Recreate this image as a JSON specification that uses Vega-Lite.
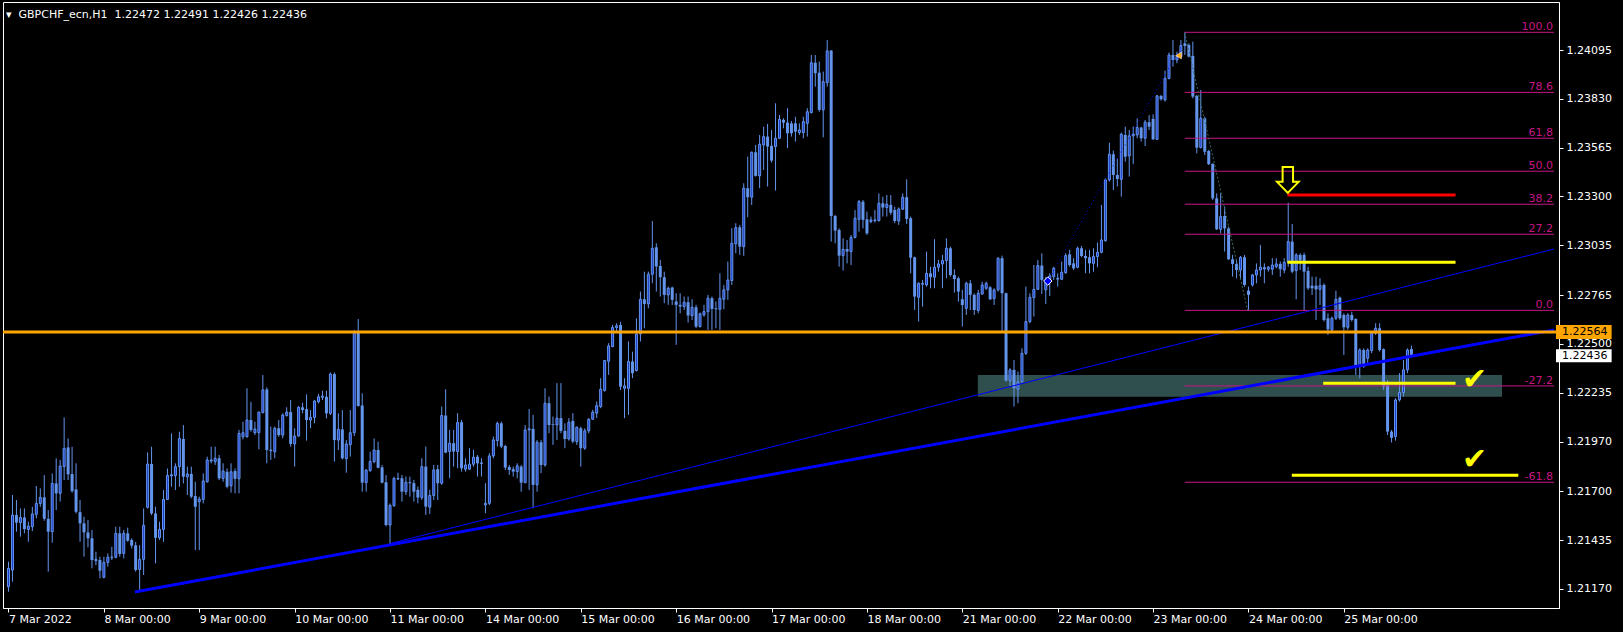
{
"$schema":"https://vega.github.io/schema/vega-lite/v6.json",
"width":1556,"height":606,
"autosize":{"type":"none"},
"padding":{"left":3,"top":2,"right":64,"bottom":24},
"background":"black",
"title":{"text":"▾\u00a0\u00a0GBPCHF_ecn,H1\u00a0\u00a01.22472 1.22491 1.22426 1.22436","anchor":"start","frame":"group","orient":"top","offset":-14,"dx":3,"dy":13,"color":"white","font":"DejaVu Sans","fontSize":11,"fontWeight":"normal","baseline":"alphabetic"},
"config":{"view":{"stroke":"white","strokeWidth":1},"axis":{"grid":false}},
"datasets":{
"candles":[
{"i":0,"o":1.21182,"h":1.21318,"l":1.21155,"c":1.21282},
{"i":1,"o":1.21273,"h":1.21680,"l":1.21209,"c":1.21571},
{"i":2,"o":1.21571,"h":1.21653,"l":1.21481,"c":1.21530},
{"i":3,"o":1.21530,"h":1.21607,"l":1.21454,"c":1.21558},
{"i":4,"o":1.21558,"h":1.21607,"l":1.21472,"c":1.21495},
{"i":5,"o":1.21493,"h":1.21535,"l":1.21426,"c":1.21511},
{"i":6,"o":1.21508,"h":1.21616,"l":1.21484,"c":1.21577},
{"i":7,"o":1.21575,"h":1.21729,"l":1.21553,"c":1.21634},
{"i":8,"o":1.21634,"h":1.21716,"l":1.21616,"c":1.21667},
{"i":9,"o":1.21667,"h":1.21788,"l":1.21540,"c":1.21551},
{"i":10,"o":1.21551,"h":1.21598,"l":1.21264,"c":1.21481},
{"i":11,"o":1.21481,"h":1.21797,"l":1.21421,"c":1.21743},
{"i":12,"o":1.21743,"h":1.21879,"l":1.21598,"c":1.21689},
{"i":13,"o":1.21689,"h":1.21870,"l":1.21644,"c":1.21837},
{"i":14,"o":1.21834,"h":1.22101,"l":1.21761,"c":1.21933},
{"i":15,"o":1.21938,"h":1.21987,"l":1.21761,"c":1.21792},
{"i":16,"o":1.21794,"h":1.21942,"l":1.21692,"c":1.21701},
{"i":17,"o":1.21710,"h":1.21852,"l":1.21580,"c":1.21589},
{"i":18,"o":1.21587,"h":1.21653,"l":1.21426,"c":1.21526},
{"i":19,"o":1.21526,"h":1.21562,"l":1.21345,"c":1.21477},
{"i":20,"o":1.21477,"h":1.21544,"l":1.21396,"c":1.21445},
{"i":21,"o":1.21445,"h":1.21490,"l":1.21282,"c":1.21327},
{"i":22,"o":1.21323,"h":1.21372,"l":1.21300,"c":1.21331},
{"i":23,"o":1.21327,"h":1.21345,"l":1.21228,"c":1.21269},
{"i":24,"o":1.21233,"h":1.21345,"l":1.21228,"c":1.21314},
{"i":25,"o":1.21314,"h":1.21363,"l":1.21291,"c":1.21342},
{"i":26,"o":1.21340,"h":1.21399,"l":1.21327,"c":1.21343},
{"i":27,"o":1.21342,"h":1.21508,"l":1.21336,"c":1.21472},
{"i":28,"o":1.21472,"h":1.21508,"l":1.21345,"c":1.21360},
{"i":29,"o":1.21363,"h":1.21490,"l":1.21336,"c":1.21472},
{"i":30,"o":1.21472,"h":1.21503,"l":1.21426,"c":1.21432},
{"i":31,"o":1.21436,"h":1.21445,"l":1.21390,"c":1.21405},
{"i":32,"o":1.21407,"h":1.21426,"l":1.21264,"c":1.21273},
{"i":33,"o":1.21276,"h":1.21408,"l":1.21164,"c":1.21331},
{"i":34,"o":1.21331,"h":1.21607,"l":1.21246,"c":1.21515},
{"i":35,"o":1.21613,"h":1.21911,"l":1.21607,"c":1.21848},
{"i":36,"o":1.21848,"h":1.21942,"l":1.21571,"c":1.21580},
{"i":37,"o":1.21580,"h":1.21616,"l":1.21309,"c":1.21448},
{"i":38,"o":1.21448,"h":1.21535,"l":1.21436,"c":1.21493},
{"i":39,"o":1.21493,"h":1.21707,"l":1.21426,"c":1.21656},
{"i":40,"o":1.21656,"h":1.21824,"l":1.21653,"c":1.21786},
{"i":41,"o":1.21783,"h":1.22014,"l":1.21725,"c":1.21790},
{"i":42,"o":1.21785,"h":1.21852,"l":1.21707,"c":1.21834},
{"i":43,"o":1.21834,"h":1.22023,"l":1.21725,"c":1.21987},
{"i":44,"o":1.21984,"h":1.22060,"l":1.21743,"c":1.21779},
{"i":45,"o":1.21779,"h":1.21834,"l":1.21680,"c":1.21794},
{"i":46,"o":1.21794,"h":1.21834,"l":1.21662,"c":1.21671},
{"i":47,"o":1.21674,"h":1.21752,"l":1.21381,"c":1.21616},
{"i":48,"o":1.21644,"h":1.21671,"l":1.21381,"c":1.21658},
{"i":49,"o":1.21656,"h":1.21797,"l":1.21634,"c":1.21756},
{"i":50,"o":1.21752,"h":1.21888,"l":1.21747,"c":1.21870},
{"i":51,"o":1.21864,"h":1.21942,"l":1.21852,"c":1.21870},
{"i":52,"o":1.21861,"h":1.21942,"l":1.21843,"c":1.21879},
{"i":53,"o":1.21879,"h":1.21897,"l":1.21761,"c":1.21770},
{"i":54,"o":1.21770,"h":1.21852,"l":1.21752,"c":1.21810},
{"i":55,"o":1.21806,"h":1.21824,"l":1.21716,"c":1.21725},
{"i":56,"o":1.21730,"h":1.21852,"l":1.21692,"c":1.21806},
{"i":57,"o":1.21810,"h":1.21824,"l":1.21689,"c":1.21768},
{"i":58,"o":1.21768,"h":1.22033,"l":1.21689,"c":1.22014},
{"i":59,"o":1.21996,"h":1.22078,"l":1.21982,"c":1.22018},
{"i":60,"o":1.21996,"h":1.22259,"l":1.21991,"c":1.22087},
{"i":61,"o":1.22087,"h":1.22186,"l":1.22023,"c":1.22033},
{"i":62,"o":1.22018,"h":1.22078,"l":1.22005,"c":1.22038},
{"i":63,"o":1.22018,"h":1.22132,"l":1.21928,"c":1.22130},
{"i":64,"o":1.22127,"h":1.22331,"l":1.22123,"c":1.22250},
{"i":65,"o":1.22253,"h":1.22264,"l":1.21852,"c":1.21924},
{"i":66,"o":1.21920,"h":1.22051,"l":1.21870,"c":1.21924},
{"i":67,"o":1.21915,"h":1.22051,"l":1.21879,"c":1.22042},
{"i":68,"o":1.22042,"h":1.22087,"l":1.21996,"c":1.22005},
{"i":69,"o":1.22005,"h":1.22123,"l":1.21987,"c":1.22114},
{"i":70,"o":1.22112,"h":1.22156,"l":1.22105,"c":1.22130},
{"i":71,"o":1.22130,"h":1.22195,"l":1.21942,"c":1.21957},
{"i":72,"o":1.21957,"h":1.22042,"l":1.21834,"c":1.22000},
{"i":73,"o":1.22000,"h":1.22163,"l":1.21996,"c":1.22156},
{"i":74,"o":1.22156,"h":1.22181,"l":1.22123,"c":1.22141},
{"i":75,"o":1.22146,"h":1.22226,"l":1.21975,"c":1.22087},
{"i":76,"o":1.22087,"h":1.22141,"l":1.22042,"c":1.22101},
{"i":77,"o":1.22101,"h":1.22195,"l":1.22069,"c":1.22190},
{"i":78,"o":1.22186,"h":1.22228,"l":1.22177,"c":1.22213},
{"i":79,"o":1.22210,"h":1.22246,"l":1.22195,"c":1.22217},
{"i":80,"o":1.22213,"h":1.22246,"l":1.22096,"c":1.22123},
{"i":81,"o":1.22123,"h":1.22345,"l":1.22114,"c":1.22336},
{"i":82,"o":1.22336,"h":1.22345,"l":1.21861,"c":1.21978},
{"i":83,"o":1.21978,"h":1.22123,"l":1.21924,"c":1.22036},
{"i":84,"o":1.22036,"h":1.22141,"l":1.21873,"c":1.21879},
{"i":85,"o":1.21877,"h":1.21978,"l":1.21801,"c":1.21957},
{"i":86,"o":1.21953,"h":1.22141,"l":1.21888,"c":1.22018},
{"i":87,"o":1.22018,"h":1.22575,"l":1.22000,"c":1.22564},
{"i":88,"o":1.22563,"h":1.22635,"l":1.22159,"c":1.22163},
{"i":89,"o":1.22166,"h":1.22232,"l":1.21698,"c":1.21747},
{"i":90,"o":1.21747,"h":1.21820,"l":1.21698,"c":1.21815},
{"i":91,"o":1.21812,"h":1.21915,"l":1.21806,"c":1.21862},
{"i":92,"o":1.21861,"h":1.21987,"l":1.21852,"c":1.21924},
{"i":93,"o":1.21924,"h":1.21969,"l":1.21824,"c":1.21828},
{"i":94,"o":1.21830,"h":1.21843,"l":1.21743,"c":1.21747},
{"i":95,"o":1.21749,"h":1.21788,"l":1.21510,"c":1.21517},
{"i":96,"o":1.21517,"h":1.21634,"l":1.21408,"c":1.21624},
{"i":97,"o":1.21622,"h":1.21779,"l":1.21616,"c":1.21770},
{"i":98,"o":1.21767,"h":1.21801,"l":1.21761,"c":1.21770},
{"i":99,"o":1.21771,"h":1.21789,"l":1.21644,"c":1.21698},
{"i":100,"o":1.21698,"h":1.21780,"l":1.21680,"c":1.21749},
{"i":101,"o":1.21749,"h":1.21780,"l":1.21671,"c":1.21744},
{"i":102,"o":1.21744,"h":1.21762,"l":1.21644,"c":1.21698},
{"i":103,"o":1.21708,"h":1.21726,"l":1.21635,"c":1.21666},
{"i":104,"o":1.21666,"h":1.21879,"l":1.21653,"c":1.21834},
{"i":105,"o":1.21834,"h":1.21943,"l":1.21572,"c":1.21617},
{"i":106,"o":1.21614,"h":1.21708,"l":1.21577,"c":1.21677},
{"i":107,"o":1.21677,"h":1.21843,"l":1.21653,"c":1.21816},
{"i":108,"o":1.21820,"h":1.21843,"l":1.21653,"c":1.21744},
{"i":109,"o":1.21744,"h":1.22160,"l":1.21735,"c":1.22111},
{"i":110,"o":1.22111,"h":1.22254,"l":1.21907,"c":1.21910},
{"i":111,"o":1.21916,"h":1.22033,"l":1.21771,"c":1.21961},
{"i":112,"o":1.21961,"h":1.22033,"l":1.21834,"c":1.21916},
{"i":113,"o":1.21916,"h":1.22124,"l":1.21825,"c":1.22073},
{"i":114,"o":1.22075,"h":1.22087,"l":1.21807,"c":1.21825},
{"i":115,"o":1.21820,"h":1.21879,"l":1.21807,"c":1.21843},
{"i":116,"o":1.21820,"h":1.21934,"l":1.21816,"c":1.21847},
{"i":117,"o":1.21847,"h":1.21925,"l":1.21834,"c":1.21885},
{"i":118,"o":1.21888,"h":1.21897,"l":1.21780,"c":1.21852},
{"i":119,"o":1.21856,"h":1.21879,"l":1.21780,"c":1.21849},
{"i":120,"o":1.21626,"h":1.21744,"l":1.21581,"c":1.21635},
{"i":121,"o":1.21635,"h":1.21907,"l":1.21626,"c":1.21892},
{"i":122,"o":1.21892,"h":1.21997,"l":1.21879,"c":1.21979},
{"i":123,"o":1.21975,"h":1.22078,"l":1.21943,"c":1.22069},
{"i":124,"o":1.22069,"h":1.22078,"l":1.21934,"c":1.21943},
{"i":125,"o":1.21946,"h":1.21952,"l":1.21816,"c":1.21829},
{"i":126,"o":1.21832,"h":1.21843,"l":1.21789,"c":1.21816},
{"i":127,"o":1.21820,"h":1.21834,"l":1.21780,"c":1.21807},
{"i":128,"o":1.21807,"h":1.21852,"l":1.21771,"c":1.21838},
{"i":129,"o":1.21834,"h":1.21843,"l":1.21698,"c":1.21747},
{"i":130,"o":1.21747,"h":1.22060,"l":1.21744,"c":1.22033},
{"i":131,"o":1.22033,"h":1.22147,"l":1.21708,"c":1.22039},
{"i":132,"o":1.22039,"h":1.22115,"l":1.21608,"c":1.21735},
{"i":133,"o":1.21735,"h":1.21979,"l":1.21698,"c":1.21966},
{"i":134,"o":1.21966,"h":1.21979,"l":1.21798,"c":1.21843},
{"i":135,"o":1.21843,"h":1.22259,"l":1.21834,"c":1.22178},
{"i":136,"o":1.22178,"h":1.22214,"l":1.22015,"c":1.22060},
{"i":137,"o":1.22064,"h":1.22106,"l":1.21952,"c":1.22060},
{"i":138,"o":1.22060,"h":1.22287,"l":1.21979,"c":1.22097},
{"i":139,"o":1.22097,"h":1.22287,"l":1.22015,"c":1.22028},
{"i":140,"o":1.22028,"h":1.22069,"l":1.21934,"c":1.21984},
{"i":141,"o":1.21984,"h":1.22097,"l":1.21975,"c":1.22075},
{"i":142,"o":1.22082,"h":1.22124,"l":1.21961,"c":1.21970},
{"i":143,"o":1.21970,"h":1.22051,"l":1.21952,"c":1.22048},
{"i":144,"o":1.22042,"h":1.22051,"l":1.21834,"c":1.21934},
{"i":145,"o":1.21934,"h":1.22042,"l":1.21925,"c":1.22028},
{"i":146,"o":1.22028,"h":1.22097,"l":1.22015,"c":1.22091},
{"i":147,"o":1.22091,"h":1.22142,"l":1.22087,"c":1.22129},
{"i":148,"o":1.22124,"h":1.22187,"l":1.22097,"c":1.22165},
{"i":149,"o":1.22160,"h":1.22314,"l":1.22151,"c":1.22254},
{"i":150,"o":1.22247,"h":1.22413,"l":1.22241,"c":1.22410},
{"i":151,"o":1.22406,"h":1.22504,"l":1.22332,"c":1.22489},
{"i":152,"o":1.22485,"h":1.22603,"l":1.22482,"c":1.22589},
{"i":153,"o":1.22589,"h":1.22612,"l":1.22567,"c":1.22598},
{"i":154,"o":1.22603,"h":1.22620,"l":1.22250,"c":1.22268},
{"i":155,"o":1.22259,"h":1.22314,"l":1.22097,"c":1.22272},
{"i":156,"o":1.22259,"h":1.22513,"l":1.22115,"c":1.22404},
{"i":157,"o":1.22404,"h":1.22458,"l":1.22314,"c":1.22341},
{"i":158,"o":1.22355,"h":1.22639,"l":1.22350,"c":1.22554},
{"i":159,"o":1.22554,"h":1.22784,"l":1.22513,"c":1.22742},
{"i":160,"o":1.22742,"h":1.22892,"l":1.22585,"c":1.22717},
{"i":161,"o":1.22717,"h":1.22892,"l":1.22693,"c":1.22878},
{"i":162,"o":1.22878,"h":1.23167,"l":1.22829,"c":1.23019},
{"i":163,"o":1.23024,"h":1.23046,"l":1.22784,"c":1.22920},
{"i":164,"o":1.22923,"h":1.22956,"l":1.22757,"c":1.22862},
{"i":165,"o":1.22862,"h":1.22892,"l":1.22721,"c":1.22766},
{"i":166,"o":1.22766,"h":1.22811,"l":1.22712,"c":1.22802},
{"i":167,"o":1.22806,"h":1.22811,"l":1.22712,"c":1.22739},
{"i":168,"o":1.22730,"h":1.22775,"l":1.22495,"c":1.22712},
{"i":169,"o":1.22712,"h":1.22775,"l":1.22666,"c":1.22703},
{"i":170,"o":1.22703,"h":1.22757,"l":1.22684,"c":1.22726},
{"i":171,"o":1.22726,"h":1.22757,"l":1.22616,"c":1.22654},
{"i":172,"o":1.22654,"h":1.22742,"l":1.22630,"c":1.22699},
{"i":173,"o":1.22699,"h":1.22712,"l":1.22585,"c":1.22594},
{"i":174,"o":1.22594,"h":1.22670,"l":1.22589,"c":1.22663},
{"i":175,"o":1.22657,"h":1.22712,"l":1.22648,"c":1.22675},
{"i":176,"o":1.22675,"h":1.22766,"l":1.22576,"c":1.22748},
{"i":177,"o":1.22748,"h":1.22757,"l":1.22576,"c":1.22690},
{"i":178,"o":1.22693,"h":1.22730,"l":1.22585,"c":1.22688},
{"i":179,"o":1.22688,"h":1.22883,"l":1.22576,"c":1.22748},
{"i":180,"o":1.22742,"h":1.22820,"l":1.22688,"c":1.22793},
{"i":181,"o":1.22793,"h":1.22947,"l":1.22739,"c":1.22847},
{"i":182,"o":1.22844,"h":1.23128,"l":1.22820,"c":1.23046},
{"i":183,"o":1.23043,"h":1.23155,"l":1.22992,"c":1.23131},
{"i":184,"o":1.23133,"h":1.23146,"l":1.22983,"c":1.23028},
{"i":185,"o":1.23028,"h":1.23372,"l":1.22978,"c":1.23345},
{"i":186,"o":1.23345,"h":1.23517,"l":1.23187,"c":1.23296},
{"i":187,"o":1.23296,"h":1.23544,"l":1.23254,"c":1.23540},
{"i":188,"o":1.23540,"h":1.23580,"l":1.23408,"c":1.23412},
{"i":189,"o":1.23412,"h":1.23634,"l":1.23345,"c":1.23584},
{"i":190,"o":1.23580,"h":1.23679,"l":1.23444,"c":1.23625},
{"i":191,"o":1.23625,"h":1.23694,"l":1.23354,"c":1.23571},
{"i":192,"o":1.23575,"h":1.23661,"l":1.23484,"c":1.23495},
{"i":193,"o":1.23571,"h":1.23806,"l":1.23332,"c":1.23616},
{"i":194,"o":1.23616,"h":1.23743,"l":1.23611,"c":1.23719},
{"i":195,"o":1.23716,"h":1.23725,"l":1.23670,"c":1.23701},
{"i":196,"o":1.23701,"h":1.23779,"l":1.23562,"c":1.23643},
{"i":197,"o":1.23697,"h":1.23710,"l":1.23625,"c":1.23643},
{"i":198,"o":1.23697,"h":1.23733,"l":1.23598,"c":1.23652},
{"i":199,"o":1.23647,"h":1.23697,"l":1.23634,"c":1.23661},
{"i":200,"o":1.23647,"h":1.23733,"l":1.23616,"c":1.23706},
{"i":201,"o":1.23697,"h":1.23779,"l":1.23625,"c":1.23760},
{"i":202,"o":1.23755,"h":1.24068,"l":1.23751,"c":1.24026},
{"i":203,"o":1.24026,"h":1.24068,"l":1.23896,"c":1.23969},
{"i":204,"o":1.23972,"h":1.24032,"l":1.23760,"c":1.23770},
{"i":205,"o":1.23770,"h":1.23978,"l":1.23621,"c":1.23923},
{"i":206,"o":1.23918,"h":1.24149,"l":1.23896,"c":1.24090},
{"i":207,"o":1.24092,"h":1.24095,"l":1.23055,"c":1.23194},
{"i":208,"o":1.23194,"h":1.23200,"l":1.23046,"c":1.23115},
{"i":209,"o":1.23118,"h":1.23127,"l":1.22919,"c":1.22979},
{"i":210,"o":1.22979,"h":1.23073,"l":1.22898,"c":1.23013},
{"i":211,"o":1.23015,"h":1.23064,"l":1.22937,"c":1.23001},
{"i":212,"o":1.23001,"h":1.23091,"l":1.22928,"c":1.23078},
{"i":213,"o":1.23078,"h":1.23227,"l":1.23073,"c":1.23182},
{"i":214,"o":1.23176,"h":1.23281,"l":1.23109,"c":1.23272},
{"i":215,"o":1.23272,"h":1.23281,"l":1.23127,"c":1.23173},
{"i":216,"o":1.23176,"h":1.23218,"l":1.23091,"c":1.23100},
{"i":217,"o":1.23164,"h":1.23191,"l":1.23155,"c":1.23173},
{"i":218,"o":1.23169,"h":1.23227,"l":1.23158,"c":1.23173},
{"i":219,"o":1.23169,"h":1.23317,"l":1.23164,"c":1.23263},
{"i":220,"o":1.23263,"h":1.23299,"l":1.23191,"c":1.23240},
{"i":221,"o":1.23240,"h":1.23308,"l":1.23191,"c":1.23258},
{"i":222,"o":1.23254,"h":1.23308,"l":1.23200,"c":1.23212},
{"i":223,"o":1.23227,"h":1.23245,"l":1.23155,"c":1.23167},
{"i":224,"o":1.23167,"h":1.23241,"l":1.23146,"c":1.23232},
{"i":225,"o":1.23231,"h":1.23317,"l":1.23227,"c":1.23296},
{"i":226,"o":1.23296,"h":1.23393,"l":1.23151,"c":1.23178},
{"i":227,"o":1.23182,"h":1.23191,"l":1.22883,"c":1.22968},
{"i":228,"o":1.22970,"h":1.22974,"l":1.22684,"c":1.22757},
{"i":229,"o":1.22753,"h":1.22833,"l":1.22621,"c":1.22829},
{"i":230,"o":1.22824,"h":1.22847,"l":1.22702,"c":1.22829},
{"i":231,"o":1.22820,"h":1.23001,"l":1.22811,"c":1.22883},
{"i":232,"o":1.22883,"h":1.22919,"l":1.22802,"c":1.22862},
{"i":233,"o":1.22862,"h":1.23068,"l":1.22802,"c":1.22916},
{"i":234,"o":1.22916,"h":1.22956,"l":1.22892,"c":1.22934},
{"i":235,"o":1.22934,"h":1.22983,"l":1.22802,"c":1.22952},
{"i":236,"o":1.22952,"h":1.23073,"l":1.22856,"c":1.23019},
{"i":237,"o":1.23019,"h":1.23028,"l":1.22865,"c":1.22874},
{"i":238,"o":1.22874,"h":1.22905,"l":1.22778,"c":1.22852},
{"i":239,"o":1.22856,"h":1.22865,"l":1.22729,"c":1.22784},
{"i":240,"o":1.22742,"h":1.22793,"l":1.22594,"c":1.22711},
{"i":241,"o":1.22693,"h":1.22838,"l":1.22657,"c":1.22829},
{"i":242,"o":1.22829,"h":1.22847,"l":1.22684,"c":1.22766},
{"i":243,"o":1.22766,"h":1.22775,"l":1.22657,"c":1.22684},
{"i":244,"o":1.22681,"h":1.22793,"l":1.22666,"c":1.22775},
{"i":245,"o":1.22771,"h":1.22838,"l":1.22766,"c":1.22820},
{"i":246,"o":1.22802,"h":1.22838,"l":1.22793,"c":1.22829},
{"i":247,"o":1.22807,"h":1.22814,"l":1.22738,"c":1.22742},
{"i":248,"o":1.22746,"h":1.22802,"l":1.22711,"c":1.22793},
{"i":249,"o":1.22793,"h":1.22970,"l":1.22784,"c":1.22965},
{"i":250,"o":1.22965,"h":1.22979,"l":1.22567,"c":1.22775},
{"i":251,"o":1.22775,"h":1.22778,"l":1.22295,"c":1.22301},
{"i":252,"o":1.22301,"h":1.22368,"l":1.22268,"c":1.22359},
{"i":253,"o":1.22359,"h":1.22413,"l":1.22160,"c":1.22259},
{"i":254,"o":1.22254,"h":1.22350,"l":1.22178,"c":1.22295},
{"i":255,"o":1.22295,"h":1.22476,"l":1.22286,"c":1.22449},
{"i":256,"o":1.22449,"h":1.22811,"l":1.22440,"c":1.22621},
{"i":257,"o":1.22621,"h":1.22775,"l":1.22612,"c":1.22753},
{"i":258,"o":1.22751,"h":1.22928,"l":1.22648,"c":1.22796},
{"i":259,"o":1.22796,"h":1.22956,"l":1.22793,"c":1.22925},
{"i":260,"o":1.22925,"h":1.22992,"l":1.22771,"c":1.22847},
{"i":261,"o":1.22793,"h":1.22865,"l":1.22717,"c":1.22847},
{"i":262,"o":1.22838,"h":1.22883,"l":1.22760,"c":1.22869},
{"i":263,"o":1.22865,"h":1.22919,"l":1.22847,"c":1.22910},
{"i":264,"o":1.22851,"h":1.22883,"l":1.22811,"c":1.22856},
{"i":265,"o":1.22851,"h":1.22947,"l":1.22847,"c":1.22889},
{"i":266,"o":1.22887,"h":1.22992,"l":1.22880,"c":1.22979},
{"i":267,"o":1.22986,"h":1.23010,"l":1.22919,"c":1.22928},
{"i":268,"o":1.22937,"h":1.22965,"l":1.22901,"c":1.22910},
{"i":269,"o":1.22916,"h":1.23028,"l":1.22910,"c":1.23019},
{"i":270,"o":1.23019,"h":1.23031,"l":1.22970,"c":1.22977},
{"i":271,"o":1.22977,"h":1.23010,"l":1.22883,"c":1.22965},
{"i":272,"o":1.22970,"h":1.23010,"l":1.22883,"c":1.22937},
{"i":273,"o":1.22937,"h":1.23019,"l":1.22892,"c":1.22974},
{"i":274,"o":1.22974,"h":1.23050,"l":1.22916,"c":1.22997},
{"i":275,"o":1.22997,"h":1.23254,"l":1.22992,"c":1.23064},
{"i":276,"o":1.23060,"h":1.23399,"l":1.23055,"c":1.23390},
{"i":277,"o":1.23390,"h":1.23592,"l":1.23381,"c":1.23529},
{"i":278,"o":1.23529,"h":1.23549,"l":1.23335,"c":1.23417},
{"i":279,"o":1.23417,"h":1.23507,"l":1.23354,"c":1.23395},
{"i":280,"o":1.23393,"h":1.23647,"l":1.23299,"c":1.23638},
{"i":281,"o":1.23634,"h":1.23679,"l":1.23489,"c":1.23516},
{"i":282,"o":1.23520,"h":1.23661,"l":1.23408,"c":1.23629},
{"i":283,"o":1.23629,"h":1.23679,"l":1.23477,"c":1.23638},
{"i":284,"o":1.23634,"h":1.23724,"l":1.23616,"c":1.23674},
{"i":285,"o":1.23674,"h":1.23679,"l":1.23598,"c":1.23616},
{"i":286,"o":1.23616,"h":1.23715,"l":1.23574,"c":1.23703},
{"i":287,"o":1.23703,"h":1.23742,"l":1.23661,"c":1.23679},
{"i":288,"o":1.23721,"h":1.23746,"l":1.23607,"c":1.23610},
{"i":289,"o":1.23610,"h":1.23851,"l":1.23607,"c":1.23846},
{"i":290,"o":1.23846,"h":1.23851,"l":1.23820,"c":1.23828},
{"i":291,"o":1.23824,"h":1.23983,"l":1.23815,"c":1.23941},
{"i":292,"o":1.23941,"h":1.24081,"l":1.23936,"c":1.24068},
{"i":293,"o":1.24068,"h":1.24149,"l":1.24005,"c":1.24041},
{"i":294,"o":1.24041,"h":1.24086,"l":1.24023,"c":1.24059},
{"i":295,"o":1.24059,"h":1.24149,"l":1.24055,"c":1.24119},
{"i":296,"o":1.24131,"h":1.24191,"l":1.24068,"c":1.24117},
{"i":297,"o":1.24122,"h":1.24131,"l":1.24055,"c":1.24059},
{"i":298,"o":1.24063,"h":1.24140,"l":1.23833,"c":1.23842},
{"i":299,"o":1.23846,"h":1.23851,"l":1.23534,"c":1.23565},
{"i":300,"o":1.23565,"h":1.23878,"l":1.23562,"c":1.23724},
{"i":301,"o":1.23724,"h":1.23733,"l":1.23525,"c":1.23543},
{"i":302,"o":1.23547,"h":1.23553,"l":1.23471,"c":1.23475},
{"i":303,"o":1.23477,"h":1.23480,"l":1.23281,"c":1.23290},
{"i":304,"o":1.23290,"h":1.23317,"l":1.23118,"c":1.23122},
{"i":305,"o":1.23122,"h":1.23317,"l":1.23100,"c":1.23191},
{"i":306,"o":1.23194,"h":1.23245,"l":1.23001,"c":1.23127},
{"i":307,"o":1.23127,"h":1.23136,"l":1.22956,"c":1.22959},
{"i":308,"o":1.22959,"h":1.22983,"l":1.22865,"c":1.22934},
{"i":309,"o":1.22934,"h":1.22956,"l":1.22856,"c":1.22901},
{"i":310,"o":1.22901,"h":1.22977,"l":1.22856,"c":1.22970},
{"i":311,"o":1.22970,"h":1.22983,"l":1.22811,"c":1.22820},
{"i":312,"o":1.22789,"h":1.22811,"l":1.22684,"c":1.22766},
{"i":313,"o":1.22820,"h":1.22880,"l":1.22811,"c":1.22874},
{"i":314,"o":1.22874,"h":1.22937,"l":1.22829,"c":1.22901},
{"i":315,"o":1.22901,"h":1.23037,"l":1.22865,"c":1.22916},
{"i":316,"o":1.22916,"h":1.22937,"l":1.22829,"c":1.22905},
{"i":317,"o":1.22905,"h":1.22923,"l":1.22892,"c":1.22916},
{"i":318,"o":1.22905,"h":1.22965,"l":1.22874,"c":1.22928},
{"i":319,"o":1.22919,"h":1.22965,"l":1.22910,"c":1.22934},
{"i":320,"o":1.22934,"h":1.22947,"l":1.22865,"c":1.22905},
{"i":321,"o":1.22901,"h":1.22965,"l":1.22883,"c":1.22943},
{"i":322,"o":1.22943,"h":1.23267,"l":1.22919,"c":1.23055},
{"i":323,"o":1.23055,"h":1.23151,"l":1.22883,"c":1.22892},
{"i":324,"o":1.22898,"h":1.22992,"l":1.22742,"c":1.22983},
{"i":325,"o":1.22983,"h":1.22992,"l":1.22901,"c":1.22952},
{"i":326,"o":1.22983,"h":1.22995,"l":1.22684,"c":1.22892},
{"i":327,"o":1.22896,"h":1.22919,"l":1.22793,"c":1.22802},
{"i":328,"o":1.22816,"h":1.22865,"l":1.22766,"c":1.22802},
{"i":329,"o":1.22816,"h":1.22865,"l":1.22630,"c":1.22796},
{"i":330,"o":1.22796,"h":1.22856,"l":1.22711,"c":1.22816},
{"i":331,"o":1.22820,"h":1.22829,"l":1.22621,"c":1.22630},
{"i":332,"o":1.22639,"h":1.22666,"l":1.22549,"c":1.22579},
{"i":333,"o":1.22576,"h":1.22648,"l":1.22567,"c":1.22639},
{"i":334,"o":1.22639,"h":1.22789,"l":1.22630,"c":1.22742},
{"i":335,"o":1.22751,"h":1.22757,"l":1.22630,"c":1.22639},
{"i":336,"o":1.22657,"h":1.22666,"l":1.22440,"c":1.22590},
{"i":337,"o":1.22590,"h":1.22666,"l":1.22576,"c":1.22657},
{"i":338,"o":1.22657,"h":1.22675,"l":1.22621,"c":1.22630},
{"i":339,"o":1.22635,"h":1.22639,"l":1.22331,"c":1.22377},
{"i":340,"o":1.22377,"h":1.22476,"l":1.22313,"c":1.22467},
{"i":341,"o":1.22467,"h":1.22476,"l":1.22370,"c":1.22377},
{"i":342,"o":1.22422,"h":1.22476,"l":1.22395,"c":1.22467},
{"i":343,"o":1.22464,"h":1.22567,"l":1.22449,"c":1.22561},
{"i":344,"o":1.22558,"h":1.22612,"l":1.22549,"c":1.22585},
{"i":345,"o":1.22585,"h":1.22612,"l":1.22458,"c":1.22467},
{"i":346,"o":1.22471,"h":1.22476,"l":1.22250,"c":1.22268},
{"i":347,"o":1.22277,"h":1.22304,"l":1.22006,"c":1.22024},
{"i":348,"o":1.22024,"h":1.22033,"l":1.21965,"c":1.21990},
{"i":349,"o":1.21997,"h":1.22205,"l":1.21975,"c":1.22196},
{"i":350,"o":1.22196,"h":1.22341,"l":1.22187,"c":1.22236},
{"i":351,"o":1.22236,"h":1.22413,"l":1.22214,"c":1.22359},
{"i":352,"o":1.22359,"h":1.22476,"l":1.22341,"c":1.22467},
{"i":353,"o":1.22472,"h":1.22491,"l":1.22426,"c":1.22436}
],
"fib":[
{"lv":"100.0","p":1.24191},{"lv":"78.6","p":1.23865},{"lv":"61,8","p":1.23616},{"lv":"50.0","p":1.23437},{"lv":"38.2","p":1.23258},{"lv":"27.2","p":1.23095},{"lv":"0.0","p":1.22682},{"lv":"-27.2","p":1.22272},{"lv":"-61.8","p":1.21749}
],
"zone":[{"x":243.9,"x2":375.8,"p":1.22213,"p2":1.22331}],
"fibbase":[{"x":295.95,"p":1.24191,"x2":311.8,"p2":1.22682}],
"thin":[{"x":96.1,"p":1.21417,"x2":388.875,"p2":1.23015}],
"thick":[{"x":31.8,"p":1.21153,"x2":388.875,"p2":1.22576}],
"dotted":[{"x":261.5,"p":1.22841,"x2":294.4,"p2":1.24090}],
"red":[{"x":321.8,"x2":364.1,"p":1.23308}],
"yellow":[{"x":321.8,"x2":364.1,"p":1.22943},{"x":330.8,"x2":364.1,"p":1.22286},{"x":322.9,"x2":379.9,"p":1.21787}],
"checks":[{"x":368.9,"p":1.22304},{"x":368.9,"p":1.21870}]
},
"layer":[
{"data":{"name":"zone"},"mark":{"type":"rect","color":"#2F4F4F"},
 "encoding":{"x":{"field":"x","type":"quantitative","scale":{"domain":[-0.125,388.875],"nice":false,"zero":false},
   "axis":{"values":[0,24,48,72,96,120,144,168,192,216,240,264,288,312,336],"labelExpr":"['7 Mar 2022','8 Mar 00:00','9 Mar 00:00','10 Mar 00:00','11 Mar 00:00','14 Mar 00:00','15 Mar 00:00','16 Mar 00:00','17 Mar 00:00','18 Mar 00:00','21 Mar 00:00','22 Mar 00:00','23 Mar 00:00','24 Mar 00:00','25 Mar 00:00'][round(datum.value/24)]","labelAlign":"left","labelBaseline":"top","labelPadding":1,"tickSize":4,"tickColor":"white","domainColor":"white","labelColor":"white","labelFont":"DejaVu Sans","labelFontSize":11,"title":null,"grid":false,"labelOverlap":false,"labelBound":false,"labelFlush":false}},
  "x2":{"field":"x2"},
  "y":{"field":"p","type":"quantitative","scale":{"domain":[1.210667,1.243555],"nice":false,"zero":false},
   "axis":{"orient":"right","values":[1.2117,1.21435,1.217,1.2197,1.22235,1.225,1.22765,1.23035,1.233,1.23565,1.2383,1.24095],"format":".5f","tickSize":4,"labelPadding":3,"tickColor":"white","domainColor":"white","labelColor":"white","labelFont":"DejaVu Sans","labelFontSize":11,"title":null,"grid":false,"labelOverlap":false,"labelBound":false,"labelFlush":false}},
  "y2":{"field":"p2"}}},
{"data":{"name":"candles"},"mark":{"type":"rule","color":"#6495ED","strokeWidth":1},
 "encoding":{"x":{"field":"i","type":"quantitative"},"y":{"field":"l","type":"quantitative"},"y2":{"field":"h"}}},
{"data":{"name":"candles"},"transform":[{"filter":"datum.c < datum.o"}],"mark":{"type":"bar","width":3,"color":"#6495ED"},
 "encoding":{"x":{"field":"i","type":"quantitative"},"y":{"field":"o","type":"quantitative"},"y2":{"field":"c"}}},
{"data":{"name":"candles"},"transform":[{"filter":"datum.c >= datum.o"}],"mark":{"type":"bar","width":2,"fill":"#1E3CC8","stroke":"#6495ED","strokeWidth":1},
 "encoding":{"x":{"field":"i","type":"quantitative"},"y":{"field":"o","type":"quantitative"},"y2":{"field":"c"}}},
{"data":{"name":"fib"},"mark":{"type":"rule","color":"#C71585","strokeWidth":1},
 "encoding":{"x":{"datum":295.95,"type":"quantitative"},"x2":{"datum":388.875},"y":{"field":"p","type":"quantitative"}}},
{"data":{"name":"fib"},"mark":{"type":"text","color":"#C71585","align":"right","baseline":"alphabetic","dy":-2,"dx":-1,"font":"DejaVu Sans","fontSize":11},
 "encoding":{"x":{"datum":388.875,"type":"quantitative"},"y":{"field":"p","type":"quantitative"},"text":{"field":"lv"}}},
{"data":{"name":"fibbase"},"mark":{"type":"rule","color":"#3E6B5E","strokeWidth":1,"strokeDash":[2,2]},
 "encoding":{"x":{"field":"x","type":"quantitative"},"x2":{"field":"x2"},"y":{"field":"p","type":"quantitative"},"y2":{"field":"p2"}}},
{"data":{"name":"thin"},"mark":{"type":"rule","color":"#0000FF","strokeWidth":1},
 "encoding":{"x":{"field":"x","type":"quantitative"},"x2":{"field":"x2"},"y":{"field":"p","type":"quantitative"},"y2":{"field":"p2"}}},
{"data":{"name":"thick"},"mark":{"type":"rule","color":"#0000FF","strokeWidth":3},
 "encoding":{"x":{"field":"x","type":"quantitative"},"x2":{"field":"x2"},"y":{"field":"p","type":"quantitative"},"y2":{"field":"p2"}}},
{"data":{"values":[{"p":1.22564}]},"mark":{"type":"rule","color":"#FFA500","strokeWidth":3},
 "encoding":{"y":{"field":"p","type":"quantitative"}}},
{"data":{"name":"red"},"mark":{"type":"rule","color":"#FF0000","strokeWidth":3},
 "encoding":{"x":{"field":"x","type":"quantitative"},"x2":{"field":"x2"},"y":{"field":"p","type":"quantitative"}}},
{"data":{"name":"yellow"},"mark":{"type":"rule","color":"#FFFF00","strokeWidth":3},
 "encoding":{"x":{"field":"x","type":"quantitative"},"x2":{"field":"x2"},"y":{"field":"p","type":"quantitative"}}},
{"data":{"name":"dotted"},"mark":{"type":"rule","color":"#0000FF","strokeWidth":1,"strokeDash":[1,3]},
 "encoding":{"x":{"field":"x","type":"quantitative"},"x2":{"field":"x2"},"y":{"field":"p","type":"quantitative"},"y2":{"field":"p2"}}},
{"data":{"values":[{"x":261.5,"p":1.22841}]},"mark":{"type":"point","shape":"diamond","size":70,"filled":true,"fill":"#0000FF","stroke":"white","strokeWidth":1,"opacity":1},
 "encoding":{"x":{"field":"x","type":"quantitative"},"y":{"field":"p","type":"quantitative"}}},
{"data":{"values":[{"x":294.4,"p":1.24065}]},"mark":{"type":"point","shape":"triangle-left","size":45,"filled":true,"fill":"#FFA500","stroke":"white","strokeWidth":0.5,"opacity":1},
 "encoding":{"x":{"field":"x","type":"quantitative"},"y":{"field":"p","type":"quantitative"}}},
{"data":{"values":[{"x":321.9,"p":1.23390}]},"mark":{"type":"point","shape":"M-0.4,-1L0.4,-1L0.4,0.15L0.83,0.15L0,1L-0.83,0.15L-0.4,0.15Z","size":676,"filled":false,"stroke":"#FFFF00","strokeWidth":2,"opacity":1},
 "encoding":{"x":{"field":"x","type":"quantitative"},"y":{"field":"p","type":"quantitative"}}},
{"data":{"name":"checks"},"mark":{"type":"text","text":"✔","color":"#FFFF00","font":"DejaVu Sans","fontSize":30,"align":"center","baseline":"middle"},
 "encoding":{"x":{"field":"x","type":"quantitative"},"y":{"field":"p","type":"quantitative"}}},
{"data":{"values":[{"p":1.22602,"p2":1.22526}]},"mark":{"type":"rect","color":"#FFA500"},
 "encoding":{"x":{"datum":389.375,"type":"quantitative"},"x2":{"datum":403.375},"y":{"field":"p","type":"quantitative"},"y2":{"field":"p2"}}},
{"data":{"values":[{"p":1.22471,"p2":1.22400}]},"mark":{"type":"rect","color":"#FFFFFF"},
 "encoding":{"x":{"datum":389.375,"type":"quantitative"},"x2":{"datum":403.375},"y":{"field":"p","type":"quantitative"},"y2":{"field":"p2"}}},
{"data":{"values":[{"p":1.22564,"t":"1.22564"},{"p":1.22436,"t":"1.22436"}]},"mark":{"type":"text","color":"black","align":"left","baseline":"middle","font":"DejaVu Sans","fontSize":11},
 "encoding":{"x":{"datum":390.875,"type":"quantitative"},"y":{"field":"p","type":"quantitative"},"text":{"field":"t"}}}
]
}
